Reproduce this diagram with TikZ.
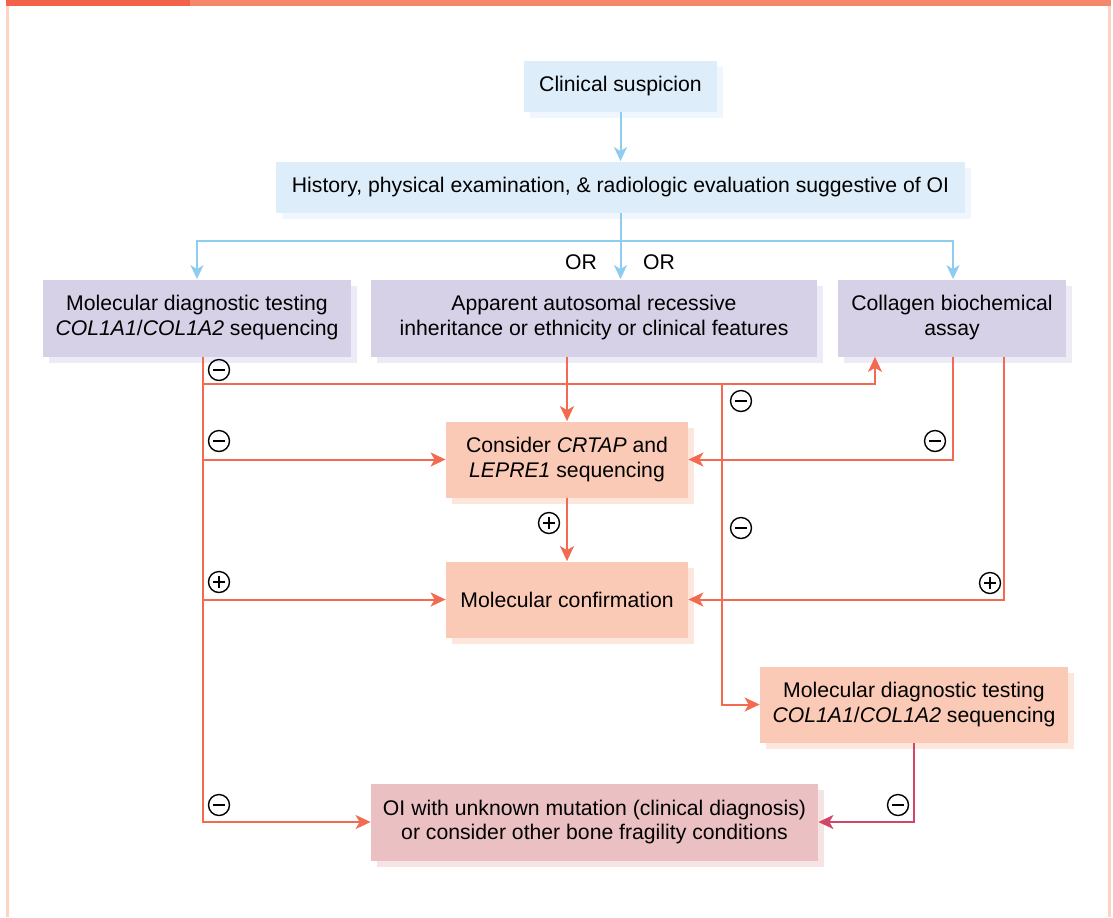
\documentclass[tikz,border=0pt]{standalone}
\usepackage{fontspec}
\setmainfont{Liberation Sans}
\usetikzlibrary{arrows.meta,shadows}
\definecolor{barA}{HTML}{F2614A}
\definecolor{barB}{HTML}{F5886A}
\definecolor{frameC}{HTML}{FDD3C4}
\definecolor{bluF}{HTML}{DDEDFA}
\definecolor{bluS}{HTML}{EFF6FD}
\definecolor{purF}{HTML}{D6D1E7}
\definecolor{purS}{HTML}{EDEBF5}
\definecolor{salF}{HTML}{FBCAB6}
\definecolor{salS}{HTML}{FDE6DC}
\definecolor{pinF}{HTML}{EBC0C2}
\definecolor{pinS}{HTML}{F6E4E5}
\definecolor{bluL}{HTML}{8ECDF0}
\definecolor{redL}{HTML}{F26A4F}
\definecolor{crmL}{HTML}{D2466A}
\tikzset{
  txt/.style={font={\fontsize{10.6pt}{12.5pt}\selectfont}, text=black},
  boxbase/.style={txt, rectangle, align=center, inner sep=0pt},
  bluebox/.style={boxbase, fill=bluF, general shadow={fill=bluS, shadow xshift=3pt, shadow yshift=-3pt}},
  purbox/.style={boxbase, fill=purF, general shadow={fill=purS, shadow xshift=3pt, shadow yshift=-3pt}},
  salbox/.style={boxbase, fill=salF, general shadow={fill=salS, shadow xshift=3pt, shadow yshift=-3pt}},
  pinbox/.style={boxbase, fill=pinF, general shadow={fill=pinS, shadow xshift=3pt, shadow yshift=-3pt}},
  bl/.style={draw=bluL, line width=1pt},
  bla/.style={bl, -{Stealth[length=7pt,width=6.5pt,inset=2pt]}},
  rl/.style={draw=redL, line width=1pt},
  ra/.style={rl, -{Stealth[length=7.5pt,width=7pt,inset=2pt]}},
  ca/.style={draw=crmL, line width=1pt, -{Stealth[length=7.5pt,width=7pt,inset=2pt]}},
  sgnbase/.style={circle, draw=black, line width=0.7pt, minimum size=10.5pt, inner sep=0pt},
  sgnm/.style={sgnbase, path picture={\draw[line width=1.4pt] ([xshift=-2.8pt]path picture bounding box.center) -- ([xshift=2.8pt]path picture bounding box.center);}},
  sgnp/.style={sgnbase, path picture={\draw[line width=1.4pt] ([xshift=-2.8pt]path picture bounding box.center) -- ([xshift=2.8pt]path picture bounding box.center); \draw[line width=1.4pt] ([yshift=-2.8pt]path picture bounding box.center) -- ([yshift=2.8pt]path picture bounding box.center);}},
}
\begin{document}
\begin{tikzpicture}[x=0.5pt,y=-0.5pt]
\useasboundingbox (0,0) rectangle (1113,917);
% frame
\fill[barA] (6,0) rectangle (190,6);
\fill[barB] (190,0) rectangle (1110.5,6);
\fill[frameC] (6,6) rectangle (8.5,917);
\fill[frameC] (1108,6) rectangle (1110.5,917);
% boxes
\node[bluebox, minimum width=96.5pt, minimum height=25.5pt] (cs) at (620.5,86) {Clinical suspicion};
\node[bluebox, minimum width=344.5pt, minimum height=25.5pt] (hist) at (620.5,187) {History, physical examination, \& radiologic evaluation suggestive of OI};
\node[purbox, minimum width=154pt, minimum height=38.5pt] (mdl) at (197,318) {Molecular diagnostic testing\\\textit{COL1A1}/\textit{COL1A2} sequencing};
\node[purbox, minimum width=223pt, minimum height=38.5pt] (ar) at (594,318) {Apparent autosomal recessive\\inheritance or ethnicity or clinical features};
\node[purbox, minimum width=114pt, minimum height=38.5pt] (cba) at (952,318) {Collagen biochemical\\assay};
\node[salbox, minimum width=121pt, minimum height=38pt] (con) at (567,459.5) {Consider \textit{CRTAP} and\\\textit{LEPRE1} sequencing};
\node[salbox, minimum width=121pt, minimum height=38pt] (mc) at (567,599.5) {Molecular confirmation};
\node[salbox, minimum width=154pt, minimum height=38pt] (mdr) at (914,704.5) {Molecular diagnostic testing\\\textit{COL1A1}/\textit{COL1A2} sequencing};
\node[pinbox, minimum width=223.5pt, minimum height=38.5pt] (oi) at (594.5,822) {OI with unknown mutation (clinical diagnosis)\\or consider other bone fragility conditions};
% blue connectors
\draw[bla] (cs) -- (hist);
\coordinate (bj) at (620.5,241);
\draw[bl] (hist.south) -- (bj);
\draw[bla] (bj) -- (ar.north -| bj);
\draw[bla] (bj) -| (mdl.north);
\draw[bla] (bj) -| ([xshift=0.5pt]cba.north);
\node[txt] (or1) at (581,262) {OR};
\node[txt] (or2) at (659,262) {OR};
% red connectors
\coordinate (j1) at (203,384);
\coordinate (j2) at (722,384);
\draw[ra] ([xshift=3pt]mdl.south) |- (oi.west);
\draw[ra] (j1) -| ([xshift=-38.5pt]cba.south);
\draw[ra] (j1 |- con.west) -- (con.west);
\draw[ra] (j1 |- mc.west) -- (mc.west);
\draw[ra] (ar.south -| con.north) -- (con.north);
\draw[ra] (con) -- (mc);
\draw[ra] (j2) |- (mdr.west);
\draw[ra] ([xshift=0.5pt]cba.south) |- (con.east);
\draw[ra] ([xshift=26pt]cba.south) |- (mc.east);
\draw[ca] (mdr.south) |- (oi.east);
% signs
\node[sgnm] (s1) at (219,370) {};
\node[sgnm] (s2) at (219,441) {};
\node[sgnp] (s3) at (219,582) {};
\node[sgnm] (s4) at (219,805) {};
\node[sgnp] (s5) at (549,523) {};
\node[sgnm] (s6) at (741,401) {};
\node[sgnm] (s7) at (741,528) {};
\node[sgnm] (s8) at (935,441) {};
\node[sgnp] (s9) at (990,583) {};
\node[sgnm] (s10) at (898,805) {};
\end{tikzpicture}
\end{document}
